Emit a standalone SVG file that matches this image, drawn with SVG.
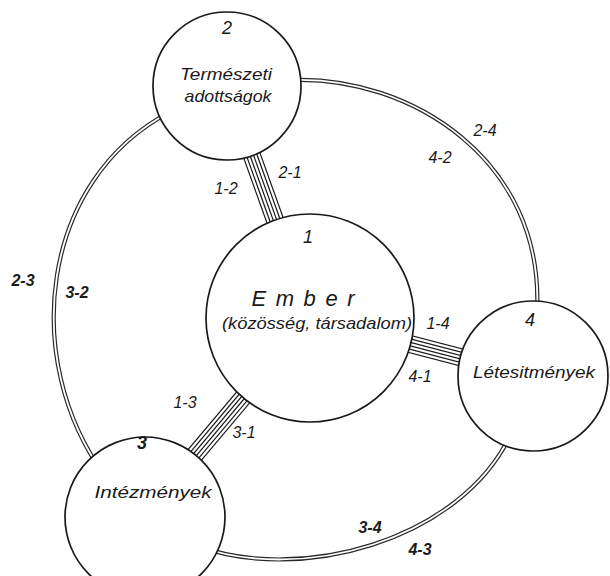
<svg xmlns="http://www.w3.org/2000/svg" width="610" height="576" viewBox="0 0 610 576">
<style>
.node{fill:#fff;stroke:#1a1a1a;stroke-width:1.7}
.t{font-family:"Liberation Sans","DejaVu Sans",sans-serif;font-style:italic;fill:#1a1a1a;text-anchor:middle}
.lbl{font-size:16px}
.b{font-weight:bold}
.bar line{stroke:#1a1a1a;stroke-width:1.2}
.dbl-o{fill:none;stroke:#2a2a2a;stroke-width:4.2}
.dbl-i{fill:none;stroke:#fff;stroke-width:1.8}
</style>
<rect width="610" height="576" fill="#fff"/>
<g id="connectors">
  <g class="bar" transform="translate(268.5,202) rotate(70.3)">
    <line x1="-123" y1="-8.5" x2="123" y2="-8.5"/><line x1="-123" y1="-5.1" x2="123" y2="-5.1"/><line x1="-123" y1="-1.7" x2="123" y2="-1.7"/><line x1="-123" y1="1.7" x2="123" y2="1.7"/><line x1="-123" y1="5.1" x2="123" y2="5.1"/><line x1="-123" y1="8.5" x2="123" y2="8.5"/>
  </g>
  <g class="bar" transform="translate(421.5,347) rotate(14.6)">
    <line x1="-115" y1="-8.5" x2="115" y2="-8.5"/><line x1="-115" y1="-5.1" x2="115" y2="-5.1"/><line x1="-115" y1="-1.7" x2="115" y2="-1.7"/><line x1="-115" y1="1.7" x2="115" y2="1.7"/><line x1="-115" y1="5.1" x2="115" y2="5.1"/><line x1="-115" y1="8.5" x2="115" y2="8.5"/>
  </g>
  <g class="bar" transform="translate(227.5,416) rotate(-49.9)">
    <line x1="-128" y1="-8.5" x2="128" y2="-8.5"/><line x1="-128" y1="-5.1" x2="128" y2="-5.1"/><line x1="-128" y1="-1.7" x2="128" y2="-1.7"/><line x1="-128" y1="1.7" x2="128" y2="1.7"/><line x1="-128" y1="5.1" x2="128" y2="5.1"/><line x1="-128" y1="8.5" x2="128" y2="8.5"/>
  </g>
  <path class="dbl-o" d="M 290 80 C 410 75, 545 160, 537 312"/>
  <path class="dbl-i" d="M 290 80 C 410 75, 545 160, 537 312"/>
  <path class="dbl-o" d="M 170 112 C 40 180, 20 360, 105 476"/>
  <path class="dbl-i" d="M 170 112 C 40 180, 20 360, 105 476"/>
  <path class="dbl-o" d="M 510 436 C 460 540, 300 585, 195 545"/>
  <path class="dbl-i" d="M 510 436 C 460 540, 300 585, 195 545"/>
  <g class="t lbl">
    <text x="226" y="194">1-2</text>
    <text x="290" y="178">2-1</text>
    <text x="438" y="329">1-4</text>
    <text x="420" y="382">4-1</text>
    <text x="185" y="408">1-3</text>
    <text x="244" y="438">3-1</text>
    <text x="485" y="136">2-4</text>
    <text x="440" y="163">4-2</text>
    <text class="b" x="23" y="286">2-3</text>
    <text class="b" x="77" y="298">3-2</text>
    <text class="b" x="370" y="533">3-4</text>
    <text class="b" x="420" y="555">4-3</text>
  </g>
</g>
<g id="node-1">
  <circle class="node" cx="310" cy="318" r="104"/>
  <text class="t" x="308" y="243" font-size="18">1</text>
  <text class="t" x="303" y="306" font-size="22" textLength="103" lengthAdjust="spacing">Ember</text>
  <text class="t" x="317" y="329" font-size="17" textLength="190" lengthAdjust="spacingAndGlyphs">(közösség, társadalom)</text>
</g>
<g id="node-2">
  <circle class="node" cx="227" cy="86" r="74"/>
  <text class="t" x="227" y="34" font-size="18">2</text>
  <text class="t" x="226" y="80" font-size="17" textLength="92" lengthAdjust="spacingAndGlyphs">Természeti</text>
  <text class="t" x="228" y="102" font-size="17" textLength="87" lengthAdjust="spacingAndGlyphs">adottságok</text>
</g>
<g id="node-3">
  <circle class="node" cx="145" cy="517" r="80"/>
  <text class="t b" x="142" y="449" font-size="18">3</text>
  <text class="t" x="153" y="498" font-size="17" textLength="117" lengthAdjust="spacingAndGlyphs">Intézmények</text>
</g>
<g id="node-4">
  <circle class="node" cx="533" cy="376" r="75"/>
  <text class="t" x="530" y="326" font-size="18">4</text>
  <text class="t" x="534" y="378" font-size="17" textLength="122" lengthAdjust="spacingAndGlyphs">Létesitmények</text>
</g>
</svg>
